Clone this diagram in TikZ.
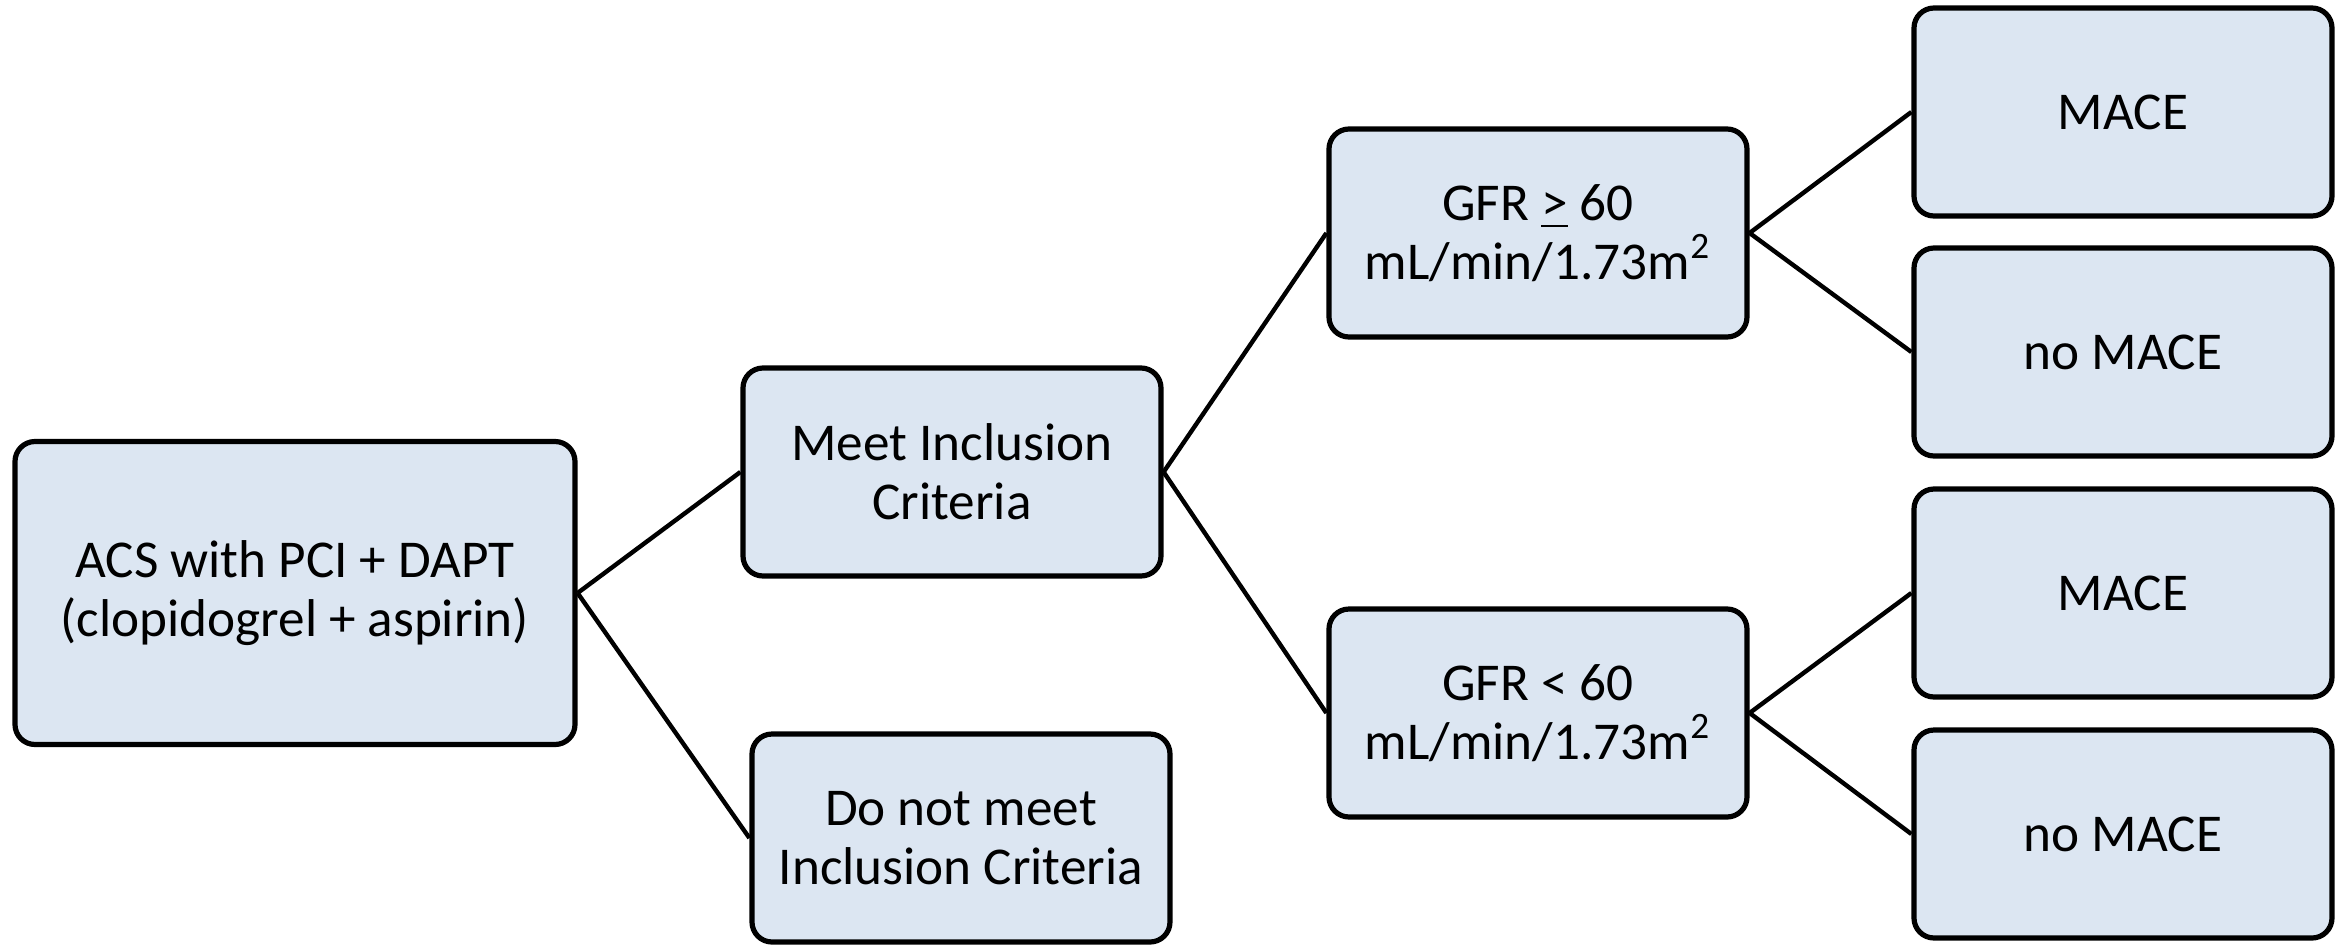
\documentclass[tikz,border=0pt]{standalone}
\usepackage{fontspec}
\setmainfont{Carlito}
\begin{document}
\begin{tikzpicture}[x=0.25pt,y=-0.25pt,
  box/.style={draw=black, line width=1.3pt, fill=boxfill, rounded corners=5pt,
    inner sep=0pt, align=center, font=\fontsize{13.3}{14.7}\selectfont},
  smallbox/.style={box, minimum width=104.5pt, minimum height=52pt},
  link/.style={draw=black, line width=1.1pt}]
\definecolor{boxfill}{HTML}{DCE6F2}
\useasboundingbox (0,0) rectangle (2349,944);

% root
\node[box, minimum width=140pt, minimum height=75.75pt] (acs) at (295,593)
  {ACS with PCI + DAPT\\(clopidogrel + aspirin)};

% inclusion split
\node[smallbox] (meet) at (952,472) {Meet Inclusion\\Criteria};
\node[smallbox] (nomeet) at (961,838) {Do not meet\\Inclusion Criteria};

% renal function split
\node[smallbox] (gfrhi) at (1538,233) {GFR \underline{>} 60\\mL/min/1.73m\textsuperscript{2}};
\node[smallbox] (gfrlo) at (1538,713) {GFR < 60\\mL/min/1.73m\textsuperscript{2}};

% outcomes
\node[smallbox] (mace1) at (2123,112) {MACE};
\node[smallbox] (nomace1) at (2123,352) {no MACE};
\node[smallbox] (mace2) at (2123,593) {MACE};
\node[smallbox] (nomace2) at (2123,834) {no MACE};

% connectors
\draw[link] (acs.east) -- (meet.west);
\draw[link] (acs.east) -- (nomeet.west);
\draw[link] (meet.east) -- (gfrhi.west);
\draw[link] (meet.east) -- (gfrlo.west);
\draw[link] (gfrhi.east) -- (mace1.west);
\draw[link] (gfrhi.east) -- (nomace1.west);
\draw[link] (gfrlo.east) -- (mace2.west);
\draw[link] (gfrlo.east) -- (nomace2.west);
\end{tikzpicture}
\end{document}
